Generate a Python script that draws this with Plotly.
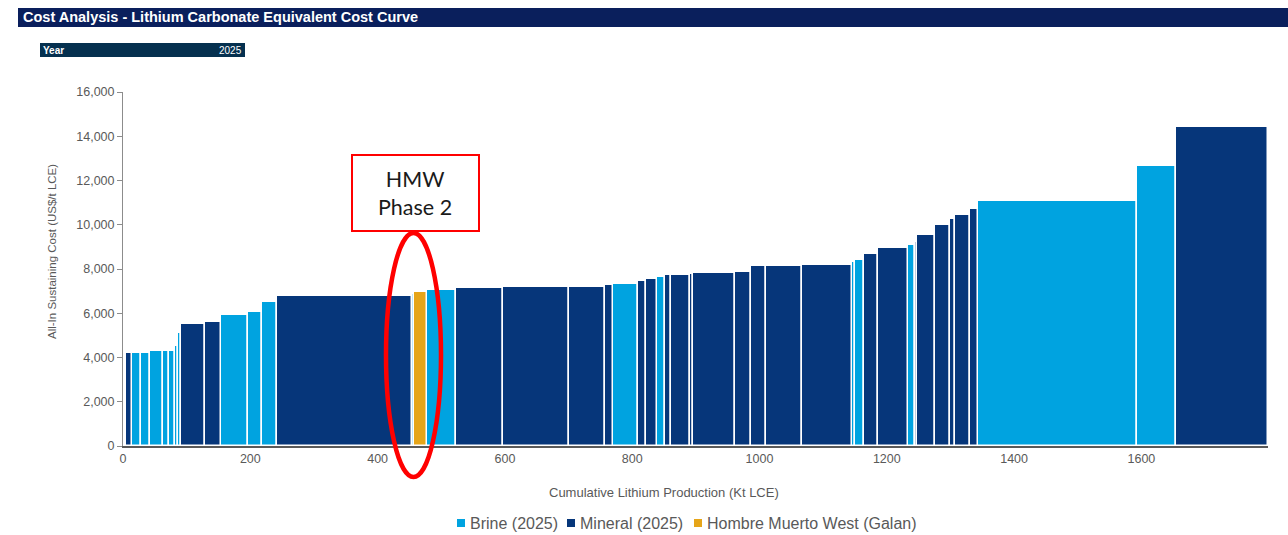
import plotly.graph_objects as go
import numpy as np

# ---- data ----
start_kt = 5.0
producer_type = ["M", "B", "B", "B", "B", "B", "B", "B", "M", "M",
                 "B", "B", "B", "M", "B", "G", "B", "M", "M", "M",
                 "M", "B", "M", "M", "B", "M", "M", "M", "M", "M",
                 "M", "M", "M", "B", "B", "M", "M", "B", "M", "M",
                 "M", "M", "M", "M", "B", "B", "M"]
cost_usd_t = [4200, 4220, 4220, 4290, 4290, 4290, 4530, 5090, 5500, 5600,
              5920, 6060, 6490, 6770, 6860, 6960, 7050, 7140, 7190, 7190,
              7280, 7320, 7460, 7550, 7640, 7730, 7730, 7770, 7820, 7860,
              8140, 8140, 8180, 8320, 8410, 8680, 8950, 9090, 9240, 9540,
              9990, 10260, 10440, 10710, 11070, 12670, 14430]
production_kt = [9.0, 14.6, 14.1, 20.4, 9.4, 8.6, 5.0, 4.4, 38.0, 25.6,
                 42.4, 21.5, 24.4, 211.0, 3.5, 20.9, 45.6, 73.8, 103.7, 56.6,
                 12.6, 39.3, 12.6, 17.3, 12.6, 9.4, 29.9, 4.7, 66.0, 25.1,
                 23.6, 56.6, 78.6, 4.7, 13.4, 22.8, 47.1, 10.2, 3.9, 27.5,
                 23.6, 7.9, 24.4, 12.6, 249.8, 60.5, 144.5]
series_keys = ["B", "M", "G"]
series_names = ["Brine (2025)", "Mineral (2025)", "Hombre Muerto West (Galan)"]
series_colors = ["#00A3E0", "#06367A", "#E6A519"]
x_ticks = [0, 200, 400, 600, 800, 1000, 1200, 1400, 1600]
y_ticks = [0, 2000, 4000, 6000, 8000, 10000, 12000, 14000, 16000]

# ---- geometry helpers ----
W, H = 1288, 535
L, R, T, B = 123, 1268, 92, 446
def px(x):
    return (x - L) / (R - L)
def py(y):
    return (B - y) / (B - T)

widths = np.array(production_kt)
lefts = start_kt + np.concatenate([[0], np.cumsum(widths)[:-1]])
centers = lefts + widths / 2

fig = go.Figure()
for key, name, color in zip(series_keys, series_names, series_colors):
    idx = [i for i, t in enumerate(producer_type) if t == key]
    fig.add_trace(go.Bar(
        x=[centers[i] for i in idx],
        y=[cost_usd_t[i] for i in idx],
        width=[widths[i] for i in idx],
        name=name,
        showlegend=False,
        marker=dict(color=color, line=dict(color="white", width=1.5)),
    ))

grey = "#595959"
font_main = "Liberation Sans, Arial, sans-serif"

fig.update_layout(
    width=W, height=H,
    margin=dict(l=L, r=W - R, t=T, b=H - B),
    paper_bgcolor="white", plot_bgcolor="white",
    barmode="overlay", bargap=0,
    showlegend=False,
    font=dict(family=font_main, color=grey),
    xaxis=dict(range=[0, (R - L) / 0.6365], tickvals=x_ticks, ticktext=[str(v) for v in x_ticks],
               showgrid=False, zeroline=False, showline=True, linecolor="#595959", linewidth=1.5,
               ticks="", tickfont=dict(size=12.5, color=grey)),
    yaxis=dict(range=[0, 16000], tickvals=y_ticks, ticktext=[f"{v:,}" for v in y_ticks],
               showgrid=False, zeroline=False, showline=True, linecolor="#8c8c8c", linewidth=1,
               ticks="outside", ticklen=5, tickcolor="#8c8c8c",
               tickfont=dict(size=12.5, color=grey)),
)

shapes = []
annotations = []
# title bar
shapes.append(dict(type="rect", xref="paper", yref="paper", x0=px(18), x1=px(1288), y0=py(27), y1=py(8),
                   fillcolor="#0A1F5C", line=dict(width=0), layer="above"))
annotations.append(dict(xref="paper", yref="paper", x=px(21), y=py(17.5), xanchor="left", yanchor="middle",
                        text="<b>Cost Analysis - Lithium Carbonate Equivalent Cost Curve</b>", showarrow=False,
                        font=dict(family=font_main, size=14.5, color="white")))
# year box
shapes.append(dict(type="rect", xref="paper", yref="paper", x0=px(40), x1=px(245), y0=py(57), y1=py(43),
                   fillcolor="#05304F", line=dict(width=0), layer="above"))
annotations.append(dict(xref="paper", yref="paper", x=px(41), y=py(50), xanchor="left", yanchor="middle",
                        text="<b>Year</b>", showarrow=False, font=dict(family=font_main, size=10, color="white")))
annotations.append(dict(xref="paper", yref="paper", x=px(244), y=py(50), xanchor="right", yanchor="middle",
                        text="2025", showarrow=False, font=dict(family=font_main, size=10, color="white")))
# axis titles
annotations.append(dict(xref="paper", yref="paper", x=px(52), y=py(252), xanchor="center", yanchor="middle",
                        text="All-In Sustaining Cost (US$/t LCE)", textangle=-90, showarrow=False,
                        font=dict(family=font_main, size=11.5, color=grey)))
annotations.append(dict(xref="paper", yref="paper", x=px(664), y=py(492), xanchor="center", yanchor="middle",
                        text="Cumulative Lithium Production (Kt LCE)", showarrow=False,
                        font=dict(family=font_main, size=13, color=grey)))
# legend (drawn as squares + text to match the reference spacing)
legend_square_left = [457, 567, 694]
for sx, name, color in zip(legend_square_left, series_names, series_colors):
    shapes.append(dict(type="rect", xref="paper", yref="paper", x0=px(sx), x1=px(sx + 8),
                       y0=py(527), y1=py(519), fillcolor=color, line=dict(width=0)))
    annotations.append(dict(xref="paper", yref="paper", x=px(sx + 11), y=py(523), xanchor="left",
                            yanchor="middle", text=name, showarrow=False,
                            font=dict(family=font_main, size=16, color=grey)))
# HMW callout box and ellipse
shapes.append(dict(type="rect", xref="paper", yref="paper", x0=px(352), x1=px(479), y0=py(231), y1=py(155),
                   fillcolor="white", line=dict(color="#FF0000", width=2), layer="above"))
annotations.append(dict(xref="paper", yref="paper", x=px(415), y=py(193), xanchor="center", yanchor="middle",
                        text="HMW<br>Phase 2", showarrow=False,
                        font=dict(family="Lato, Carlito, sans-serif", size=21.5, color="#1a1a1a")))
shapes.append(dict(type="circle", xref="paper", yref="paper", x0=px(386), x1=px(441), y0=py(477), y1=py(233),
                   line=dict(color="#FF0000", width=4.5), fillcolor="rgba(0,0,0,0)", layer="above"))

fig.update_layout(shapes=shapes, annotations=annotations)
fig.write_html("out.html", post_script="document.body.style.margin='0';",
               config={"displayModeBar": False})
